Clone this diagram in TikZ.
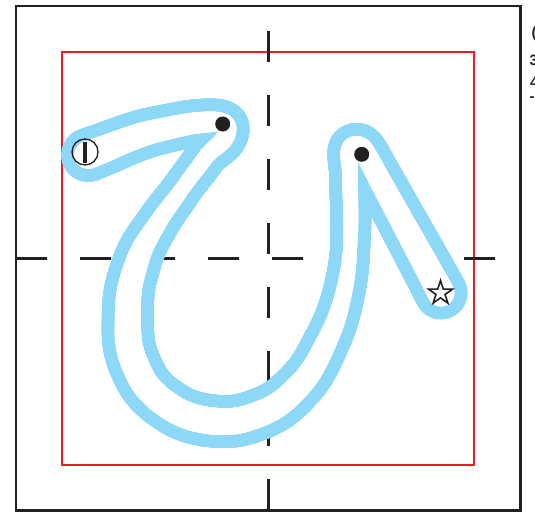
\documentclass[tikz,border=0pt]{standalone}
\usetikzlibrary{shapes.geometric,decorations.markings}
\usepackage{fontspec}
\setmainfont{Liberation Sans}
\definecolor{kblue}{RGB}{141,215,247}
\definecolor{kred}{RGB}{237,28,36}
\definecolor{kblack}{RGB}{35,31,32}
% one piece of the brush stroke: from, to, out, in, width at start, width at end
\newcommand\hseg[6]{%
 \path[decorate,decoration={markings,
   mark=between positions 0 and 1 step 0.8pt with {%
     \pgfmathsetmacro\rr{(#5+(#6-#5)*(\pgfkeysvalueof{/pgf/decoration/mark info/distance from start})/(\pgfdecoratedpathlength)+\hx)/2}%
     \fill[\hcol] (0pt,0pt) circle[radius=\rr pt];}}]
   (#1) to[out=#3,in=#4] (#2);}
\newcommand\hshape{%
 \hseg{s}{p1}{19}{192}{28}{23}%
 \hseg{p1}{p2}{12}{183}{23}{21}%
 \hseg{p2}{ta}{3}{90}{21}{19}%
 \hseg{ta}{d1}{-90}{55}{19}{16}%
 \hseg{d1}{d2}{-125}{55}{16}{15}%
 \hseg{d2}{d3}{-125}{58}{15}{18}%
 \hseg{d3}{d4}{-122}{72}{18}{23}%
 \hseg{d4}{d5}{-108}{90}{23}{26}%
 \hseg{d5}{d6}{-90}{112}{26}{27}%
 \hseg{d6}{f}{-68}{143}{27}{27}%
 \hseg{f}{g}{-37}{174}{27}{27}%
 \hseg{g}{h}{-6}{202}{27}{26}%
 \hseg{h}{i}{22}{226}{26}{24}%
 \hseg{i}{j}{46}{244}{24}{21}%
 \hseg{j}{k}{64}{256}{21}{17}%
 \hseg{k}{l}{76}{266}{17}{14}%
 \hseg{l}{m}{86}{270}{14}{16}%
 \hseg{m}{n}{90}{180}{16}{18}%
 \hseg{n}{o}{0}{118}{18}{21}%
 \hseg{o}{e}{-62}{118}{21}{27}%
 \fill[\hcol] (e) circle[radius={(27+\hx)/2*1pt}];%
}
\begin{document}
\begin{tikzpicture}[x=1pt,y=1pt,
  frame/.style={draw=kblack,line width=2.5pt},
  guide/.style={draw=kred,line width=2pt},
  cross/.style={draw=kblack,line width=2.5pt,dash pattern=on 31pt off 33pt},
  dotmark/.style={circle,fill=kblack,inner sep=0pt,minimum size=15pt},
  startmark/.style={circle,draw=kblack,line width=1.3pt,inner sep=0pt,minimum size=26pt},
  endmark/.style={star,star points=5,star point ratio=2.6,draw=kblack,fill=white,line width=1.6pt,inner sep=0pt,minimum size=25pt},
  cut/.style={anchor=west,inner sep=0pt,text=kblack,font=\bfseries\fontsize{15}{15}\selectfont}]
\useasboundingbox (0,0) rectangle (535,-512);
% frames
\draw[frame] (16,-6) rectangle (520.5,-510.5);
\draw[guide] (62,-52) rectangle (474,-464.5);
% guide cross
\draw[cross] (268.5,-31) -- (268.5,-510);
\draw[cross] (16,-258.5) -- (496,-258.5);
% centre line of the character
\coordinate (s) at (88,-155);
\coordinate (p1) at (160,-130);
\coordinate (p2) at (208,-122);
\coordinate (ta) at (227,-129);
\coordinate (d1) at (205,-158);
\coordinate (d2) at (182,-189);
\coordinate (d3) at (157,-224);
\coordinate (d4) at (137,-262);
\coordinate (d5) at (128,-310);
\coordinate (d6) at (134,-362);
\coordinate (f) at (162,-401);
\coordinate (g) at (213,-421);
\coordinate (h) at (262,-413);
\coordinate (i) at (298,-387);
\coordinate (j) at (325,-345);
\coordinate (k) at (342,-300);
\coordinate (l) at (350,-250);
\coordinate (m) at (350,-172);
\coordinate (n) at (356,-145);
\coordinate (o) at (368,-158);
\coordinate (e) at (441,-293);
\begin{scope}
 \def\hx{26}\def\hcol{kblue}\hshape
\end{scope}
\begin{scope}
 \def\hx{0}\def\hcol{white}\hshape
\end{scope}
% markers
\node[startmark] (start) at (85,-152) {};
\draw[kblack,line width=3.3pt] ([yshift=10.5pt]start.center) -- ([yshift=-10.5pt]start.center);
\node[dotmark] (dot1) at (222.7,-124) {};
\node[dotmark] (dot2) at (361.7,-154.3) {};
\node[endmark] (finish) at (440.5,-293) {};
% text cut off at the right edge
\node[cut] (t1) at (531.5,-33.5) {(};
\node[cut] (t2) at (529.5,-60) {3};
\node[cut] (t3) at (530,-82) {4};
\node[cut] (t4) at (529.5,-99.5) {-};
\end{tikzpicture}
\end{document}
